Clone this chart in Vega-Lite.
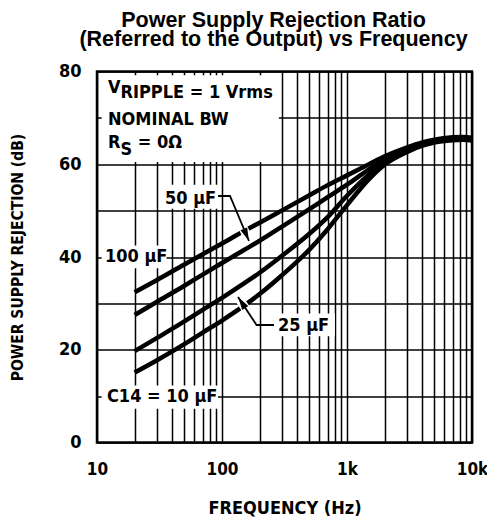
{
  "$schema": "https://vega.github.io/schema/vega-lite/v6.json",
  "autosize": "none",
  "width": 375,
  "height": 371,
  "padding": {"left": 97, "top": 71.5, "right": 15, "bottom": 82.5},
  "background": "white",
  "config": {
    "view": {"stroke": "black", "strokeWidth": 2.5},
    "font": "Liberation Sans Narrow, Arial Narrow, DejaVu Sans Condensed, sans-serif"
  },
  "title": {
    "text": ["Power Supply Rejection Ratio", "(Referred to the Output) vs Frequency"],
    "font": "Liberation Sans, Arial, sans-serif",
    "fontSize": 21.5,
    "fontWeight": "bold",
    "color": "black",
    "lineHeight": 19,
    "anchor": "middle",
    "baseline": "bottom",
    "offset": 23,
    "dx": -11,
    "dy": 33
  },
  "datasets": {
    "curves": [
      {"c": "100", "f": 20, "db": 32.4}, {"c": "100", "f": 30, "db": 35.0}, {"c": "100", "f": 50, "db": 38.4}, {"c": "100", "f": 70, "db": 40.6}, {"c": "100", "f": 100, "db": 42.9}, {"c": "100", "f": 150, "db": 45.6}, {"c": "100", "f": 200, "db": 47.4}, {"c": "100", "f": 300, "db": 50.0}, {"c": "100", "f": 500, "db": 53.3}, {"c": "100", "f": 700, "db": 55.5}, {"c": "100", "f": 1000, "db": 57.6}, {"c": "100", "f": 1500, "db": 60.0}, {"c": "100", "f": 2000, "db": 61.7}, {"c": "100", "f": 3000, "db": 63.6}, {"c": "100", "f": 4000, "db": 64.7}, {"c": "100", "f": 5000, "db": 65.3}, {"c": "100", "f": 7000, "db": 65.8}, {"c": "100", "f": 8500, "db": 65.9}, {"c": "100", "f": 10000, "db": 65.7},
      {"c": "50", "f": 20, "db": 27.5}, {"c": "50", "f": 30, "db": 30.3}, {"c": "50", "f": 50, "db": 33.8}, {"c": "50", "f": 70, "db": 36.2}, {"c": "50", "f": 100, "db": 38.7}, {"c": "50", "f": 150, "db": 41.5}, {"c": "50", "f": 200, "db": 43.5}, {"c": "50", "f": 300, "db": 46.5}, {"c": "50", "f": 500, "db": 50.3}, {"c": "50", "f": 700, "db": 52.9}, {"c": "50", "f": 1000, "db": 55.6}, {"c": "50", "f": 1500, "db": 58.9}, {"c": "50", "f": 2000, "db": 61.0}, {"c": "50", "f": 3000, "db": 63.3}, {"c": "50", "f": 4000, "db": 64.5}, {"c": "50", "f": 5000, "db": 65.1}, {"c": "50", "f": 7000, "db": 65.6}, {"c": "50", "f": 8500, "db": 65.7}, {"c": "50", "f": 10000, "db": 65.5},
      {"c": "25", "f": 20, "db": 19.7}, {"c": "25", "f": 30, "db": 22.5}, {"c": "25", "f": 50, "db": 26.1}, {"c": "25", "f": 70, "db": 28.6}, {"c": "25", "f": 100, "db": 31.2}, {"c": "25", "f": 150, "db": 34.3}, {"c": "25", "f": 200, "db": 36.6}, {"c": "25", "f": 300, "db": 40.2}, {"c": "25", "f": 500, "db": 45.0}, {"c": "25", "f": 700, "db": 48.6}, {"c": "25", "f": 1000, "db": 53.2}, {"c": "25", "f": 1500, "db": 57.8}, {"c": "25", "f": 2000, "db": 60.5}, {"c": "25", "f": 3000, "db": 63.0}, {"c": "25", "f": 4000, "db": 64.3}, {"c": "25", "f": 5000, "db": 64.9}, {"c": "25", "f": 7000, "db": 65.4}, {"c": "25", "f": 8500, "db": 65.5}, {"c": "25", "f": 10000, "db": 65.3},
      {"c": "10", "f": 20, "db": 15.1}, {"c": "10", "f": 30, "db": 17.7}, {"c": "10", "f": 50, "db": 21.2}, {"c": "10", "f": 70, "db": 23.7}, {"c": "10", "f": 100, "db": 26.3}, {"c": "10", "f": 150, "db": 29.5}, {"c": "10", "f": 200, "db": 32.0}, {"c": "10", "f": 300, "db": 36.0}, {"c": "10", "f": 500, "db": 41.6}, {"c": "10", "f": 700, "db": 46.0}, {"c": "10", "f": 1000, "db": 51.2}, {"c": "10", "f": 1500, "db": 56.8}, {"c": "10", "f": 2000, "db": 59.9}, {"c": "10", "f": 3000, "db": 62.6}, {"c": "10", "f": 4000, "db": 64.0}, {"c": "10", "f": 5000, "db": 64.7}, {"c": "10", "f": 7000, "db": 65.2}, {"c": "10", "f": 8500, "db": 65.3}, {"c": "10", "f": 10000, "db": 65.1}
    ],
    "boxes": [
      {"f": 10.9, "f2": 285, "db": 60.5, "db2": 79.2},
      {"f": 33, "f2": 93, "db": 50.4, "db2": 55.6},
      {"f": 10.9, "f2": 36, "db": 37.6, "db2": 42.5},
      {"f": 265, "f2": 800, "db": 22.9, "db2": 27.8},
      {"f": 10.9, "f2": 93, "db": 7.3, "db2": 12.3}
    ],
    "gaps": [
      {"id": "g50", "f": 137.5, "db": 48.0}, {"id": "g50", "f": 158.5, "db": 44.53},
      {"id": "g25", "f": 139.3, "db": 30.73}, {"id": "g25", "f": 163.2, "db": 27.9}
    ],
    "arrows": [
      {"id": "a50", "f": 93, "db": 53.15}, {"id": "a50", "f": 115.9, "db": 53.15}, {"id": "a50", "f": 164.4, "db": 43.45},
      {"id": "a25", "f": 134.3, "db": 31.37}, {"id": "a25", "f": 188.8, "db": 25.34}, {"id": "a25", "f": 260.6, "db": 25.34}
    ],
    "heads": [
      {"id": "a50", "f": 164.4, "db": 43.45},
      {"id": "a25", "f": 134.3, "db": 31.37}
    ],
    "texts": [
      {"f": 12.24, "db": 75.36, "t": "V"},
      {"f": 15.4, "db": 74.29, "t": "RIPPLE = 1 Vrms"},
      {"f": 12.24, "db": 68.46, "t": "NOMINAL BW"},
      {"f": 12.24, "db": 63.5, "t": "R"},
      {"f": 15.4, "db": 62.0, "t": "S"},
      {"f": 21.2, "db": 63.5, "t": "= 0Ω"},
      {"f": 35.0, "db": 51.43, "t": "50 μF"},
      {"f": 11.59, "db": 38.92, "t": "100 μF"},
      {"f": 280.5, "db": 24.04, "t": "25 μF"},
      {"f": 12.02, "db": 8.73, "t": "C14 = 10 μF"}
    ]
  },
  "encoding": {
    "x": {
      "field": "f",
      "type": "quantitative",
      "scale": {"type": "log", "domain": [10, 10000], "nice": false},
      "axis": {
        "title": "FREQUENCY (Hz)",
        "values": [10, 20, 30, 40, 50, 60, 70, 80, 90, 100, 200, 300, 400, 500, 600, 700, 800, 900, 1000, 2000, 3000, 4000, 5000, 6000, 7000, 8000, 9000, 10000],
        "labelExpr": "datum.value == 10 ? '10' : datum.value == 100 ? '100' : datum.value == 1000 ? '1k' : datum.value == 10000 ? '10k' : ''",
        "grid": true,
        "gridColor": "black",
        "gridOpacity": 1,
        "gridWidth": 1.5,
        "domain": false,
        "ticks": false,
        "labelFontSize": 17,
        "labelFontWeight": "bold",
        "labelColor": "black",
        "labelPadding": 19,
        "labelFlush": false,
        "labelOverlap": false,
        "titleFontSize": 18,
        "titleFontWeight": "bold",
        "titleColor": "black",
        "titlePadding": 22
      }
    },
    "y": {
      "field": "db",
      "type": "quantitative",
      "scale": {"domain": [0, 80], "nice": false},
      "axis": {
        "title": "POWER SUPPLY REJECTION (dB)",
        "values": [0, 10, 20, 30, 40, 50, 60, 70, 80],
        "labelExpr": "datum.value % 20 == 0 ? datum.label : ''",
        "grid": true,
        "gridColor": "black",
        "gridOpacity": 1,
        "gridWidth": 1.5,
        "domain": false,
        "ticks": false,
        "labelFontSize": 18,
        "labelFontWeight": "bold",
        "labelColor": "black",
        "labelPadding": 16,
        "labelFlush": false,
        "labelOverlap": false,
        "titleFontSize": 15.5,
        "titleFontWeight": "bold",
        "titleColor": "black",
        "titlePadding": 33
      }
    }
  },
  "layer": [
    {
      "data": {"name": "boxes"},
      "mark": {"type": "rect", "fill": "white", "strokeWidth": 0},
      "encoding": {"x2": {"field": "f2"}, "y2": {"field": "db2"}}
    },
    {
      "data": {"name": "curves"},
      "mark": {"type": "line", "color": "black", "strokeWidth": 4.5, "interpolate": "monotone"},
      "encoding": {"detail": {"field": "c"}}
    },
    {
      "data": {"name": "gaps"},
      "mark": {"type": "line", "color": "white", "strokeWidth": 9},
      "encoding": {"detail": {"field": "id"}}
    },
    {
      "data": {"name": "arrows"},
      "mark": {"type": "line", "color": "black", "strokeWidth": 1.8},
      "encoding": {"detail": {"field": "id"}}
    },
    {
      "data": {"name": "heads"},
      "transform": [{"filter": "datum.id == 'a50'"}],
      "mark": {"type": "point", "shape": "M0,0L-0.6,-2.2L0.6,-2.2Z", "size": 144, "filled": true, "color": "black", "opacity": 1, "angle": -23}
    },
    {
      "data": {"name": "heads"},
      "transform": [{"filter": "datum.id == 'a25'"}],
      "mark": {"type": "point", "shape": "M0,0L-0.6,-2.2L0.6,-2.2Z", "size": 144, "filled": true, "color": "black", "opacity": 1, "angle": 146.5}
    },
    {
      "data": {"name": "texts"},
      "mark": {"type": "text", "align": "left", "baseline": "alphabetic", "fontSize": 18, "fontWeight": "bold", "color": "black"},
      "encoding": {"text": {"field": "t"}}
    }
  ]
}
